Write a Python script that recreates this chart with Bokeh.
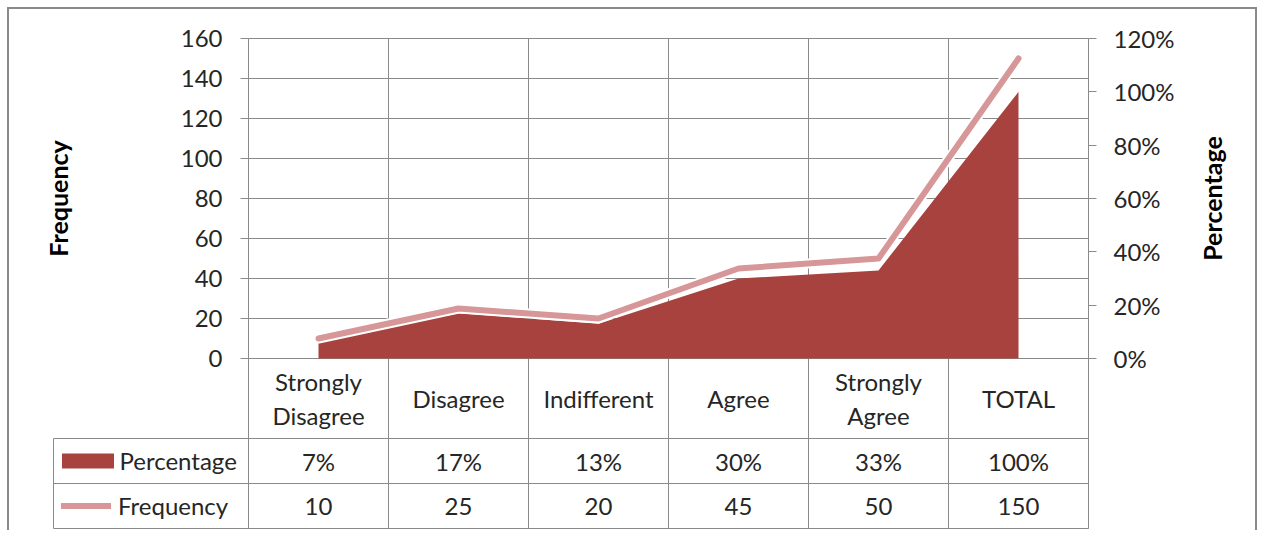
from bokeh.plotting import figure
from bokeh.models import (Range1d, LinearAxis, FixedTicker, PrintfTickFormatter,
                          Legend, LegendItem)
from bokeh.layouts import column
from bokeh.embed import file_html
from bokeh.resources import INLINE
from bokeh.core.properties import value

# ---------------- data ----------------
categories = ["Strongly\nDisagree", "Disagree", "Indifferent", "Agree", "Strongly\nAgree", "TOTAL"]
percentage = [7, 17, 13, 30, 33, 100]
frequency = [10, 25, 20, 45, 50, 150]
freq_ticks = [0, 20, 40, 60, 80, 100, 120, 140, 160]
pct_ticks = [0, 20, 40, 60, 80, 100, 120]
series_names = ["Percentage", "Frequency"]
axis_titles = ["Frequency", "Percentage"]

# ---------------- style ----------------
FONT = "Lato"
GRID = "#8a8a8a"
TEXT = "#262626"
AREA = "#A7423E"
LINE = "#D79697"
FS = "24px"

# ---------------- layout (pixels) ----------------
CANVAS_W, CANVAS_H = 1246, 521
PLOT_LEFT, PLOT_TOP = 239, 29        # top-left of the plotting area inside the canvas
PX_PER_CAT = 140
PX_PER_FREQ = 2
LEGEND_COL = 195                     # width of the table's legend column

x_start = -0.5 - PLOT_LEFT / PX_PER_CAT
x_end = x_start + CANVAS_W / PX_PER_CAT
y_end = freq_ticks[-1] + PLOT_TOP / PX_PER_FREQ
y_start = y_end - CANVAS_H / PX_PER_FREQ
pct_per_freq = pct_ticks[-1] / freq_ticks[-1]

xs = list(range(len(categories)))
bounds_x = [i - 0.5 for i in range(len(categories) + 1)]
X_LEFT, X_RIGHT = bounds_x[0], bounds_x[-1]
TABLE_LEFT = X_LEFT - LEGEND_COL / PX_PER_CAT

# table rows (frequency units below zero)
ROW_CAT, LINE_1 = -20, -40
ROW_PCT, LINE_2 = -51.25, -62.5
ROW_FRQ, LINE_3 = -73.75, -85


def canvas_x(px):
    return x_start + px / PX_PER_CAT


def canvas_y(py):
    return y_end - py / PX_PER_FREQ


p = figure(width=CANVAS_W, height=CANVAS_H, x_range=Range1d(x_start, x_end),
           y_range=Range1d(y_start, y_end), output_backend="svg", toolbar_location=None,
           x_axis_location=None, y_axis_location=None,
           min_border_left=0, min_border_right=0, min_border_top=0, min_border_bottom=0)
p.xgrid.visible = False
p.ygrid.visible = False
p.extra_y_ranges = {"pct": Range1d(y_start * pct_per_freq, y_end * pct_per_freq)}
p.outline_line_color = None
p.background_fill_color = "white"
p.border_fill_color = "white"

# gridlines and table rules
p.segment(x0=X_LEFT, x1=X_RIGHT, y0=freq_ticks, y1=freq_ticks, line_color=GRID, line_width=1)
p.segment(x0=bounds_x, x1=bounds_x, y0=LINE_3, y1=freq_ticks[-1], line_color=GRID, line_width=1)
p.segment(x0=TABLE_LEFT, x1=X_RIGHT, y0=[LINE_1, LINE_2, LINE_3], y1=[LINE_1, LINE_2, LINE_3],
          line_color=GRID, line_width=1)
p.segment(x0=TABLE_LEFT, x1=TABLE_LEFT, y0=LINE_1, y1=LINE_3, line_color=GRID, line_width=1)


def style_axis(ax):
    ax.axis_line_color = GRID
    ax.major_tick_line_color = GRID
    ax.major_tick_out = 8
    ax.major_tick_in = 0
    ax.minor_tick_line_color = None
    ax.major_label_text_font = FONT
    ax.major_label_text_font_size = FS
    ax.major_label_text_color = TEXT


ly = LinearAxis(ticker=FixedTicker(ticks=freq_ticks), fixed_location=X_LEFT,
                bounds=(LINE_3, freq_ticks[-1]))
style_axis(ly)
ly.major_label_standoff = 18
p.add_layout(ly, "left")

ry = LinearAxis(y_range_name="pct", ticker=FixedTicker(ticks=pct_ticks), fixed_location=X_RIGHT,
                bounds=(LINE_3 * pct_per_freq, pct_ticks[-1]),
                formatter=PrintfTickFormatter(format="%d%%"))
style_axis(ry)
ry.major_label_standoff = 17
p.add_layout(ry, "right")

# axis titles
p.text(x=[canvas_x(48), canvas_x(1202)], y=[canvas_y(189), canvas_y(189)], text=axis_titles,
       angle=90, angle_units="deg", text_align="center", text_baseline="middle",
       text_font=value(FONT), text_font_size="25px", text_font_style="bold", text_color="black")

# series
area_r = p.varea(x=xs, y1=0, y2=percentage, y_range_name="pct", fill_color=AREA)
halo_r = p.line(xs, frequency, line_color="white", line_width=10, line_cap="round", line_join="round")
line_r = p.line(xs, frequency, line_color=LINE, line_width=6, line_cap="round", line_join="round")

# data table
p.text(x=xs, y=ROW_CAT, text=categories, text_align="center", text_baseline="middle",
       text_font=value(FONT), text_font_size=FS, text_color=TEXT, text_line_height=1.2)
p.text(x=xs, y=ROW_PCT, text=[f"{v}%" for v in percentage], text_align="center",
       text_baseline="middle", text_font=value(FONT), text_font_size=FS, text_color=TEXT)
p.text(x=xs, y=ROW_FRQ, text=[str(v) for v in frequency], text_align="center",
       text_baseline="middle", text_font=value(FONT), text_font_size=FS, text_color=TEXT)

# legend keys of the data table (one legend per table row)
# (location = bottom-left of the legend content, canvas pixels from the bottom-left)
ITEM_H = 29
legend_specs = [
    (series_names[0], [area_r], 45.5, ROW_PCT, 65, 19, 0),
    (series_names[1], [halo_r, line_r], 52, ROW_FRQ, 50, 15, 7),
]
for name, rends, gx, row, gw, gh, standoff in legend_specs:
    row_px = (row - y_start) * PX_PER_FREQ            # row centre, px above canvas bottom
    lg = Legend(items=[LegendItem(label=name, renderers=rends)],
                location=(gx, row_px - ITEM_H / 2), orientation="vertical",
                glyph_width=gw, glyph_height=gh, label_standoff=standoff,
                label_width=100, label_height=ITEM_H, padding=8, margin=0, spacing=0,
                label_text_font=FONT, label_text_font_size=FS, label_text_color=TEXT,
                border_line_color=None, background_fill_alpha=0)
    p.add_layout(lg)

layout = column(p, styles={"margin-left": "7px", "margin-top": "7px",
                           "border-top": "2px solid #8a8a8a", "border-left": "2px solid #8a8a8a",
                           "border-right": "2px solid #8a8a8a"})

open("out.html", "w").write(file_html(layout, INLINE))
